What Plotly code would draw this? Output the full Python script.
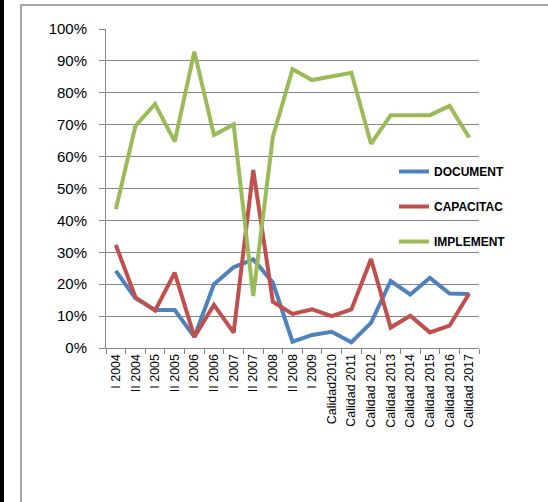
import plotly.graph_objects as go

categories = ["I 2004", "II 2004", "I 2005", "II 2005", "I 2006", "II 2006", "I 2007",
              "II 2007", "I 2008", "II 2008", "I 2009", "Calidad2010", "Calidad 2011",
              "Calidad 2012", "Calidad 2013", "Calidad 2014", "Calidad 2015",
              "Calidad 2016", "Calidad 2017"]
document = [0.242, 0.156, 0.119, 0.119, 0.035, 0.200, 0.253, 0.278, 0.205, 0.020, 0.041,
            0.051, 0.018, 0.079, 0.210, 0.168, 0.220, 0.171, 0.169]
capacitac = [0.323, 0.159, 0.117, 0.236, 0.035, 0.135, 0.048, 0.558, 0.145, 0.107, 0.121,
             0.100, 0.121, 0.279, 0.064, 0.101, 0.049, 0.070, 0.171]
implement = [0.435, 0.696, 0.765, 0.647, 0.929, 0.668, 0.701, 0.163, 0.662, 0.874, 0.840,
             0.853, 0.863, 0.640, 0.730, 0.730, 0.730, 0.759, 0.660]
series_names = ["DOCUMENT", "CAPACITAC", "IMPLEMENT"]
y_ticks = [0, 0.1, 0.2, 0.3, 0.4, 0.5, 0.6, 0.7, 0.8, 0.9, 1.0]

colors = ["#4F81BD", "#C0504D", "#9BBB59"]
W, H = 548, 502
L, R, T, B = 106, 479, 29, 348

fig = go.Figure()
for i, (name, vals) in enumerate(zip(series_names, [document, capacitac, implement])):
    fig.add_trace(go.Scatter(x=categories, y=vals, mode="lines", name=name,
                             legendgroup=name,
                             line=dict(color=colors[i], width=4)))


def px_x(p):
    return (p - L) / (R - L)


def px_y(p):
    return (B - p) / (B - T)


shapes = [
    dict(type="rect", xref="paper", yref="paper",
         x0=px_x(21), x1=px_x(560), y0=px_y(5), y1=px_y(520),
         line=dict(color="#8a8a8a", width=1.5), fillcolor="rgba(0,0,0,0)", layer="below"),
    dict(type="rect", xref="paper", yref="paper",
         x0=px_x(-5), x1=px_x(4), y0=px_y(-5), y1=px_y(510),
         line=dict(width=0), fillcolor="#000000"),
]

fig.update_layout(
    width=W, height=H,
    margin=dict(l=L, r=W - R, t=T, b=H - B, pad=0),
    paper_bgcolor="white", plot_bgcolor="white",
    font=dict(family="Liberation Sans, Arial, sans-serif", color="#000000"),
    showlegend=True,
    legend=dict(x=px_x(394), y=px_y(157), xanchor="left", yanchor="top",
                traceorder="grouped", tracegroupgap=16,
                font=dict(size=12, family="Liberation Sans, Arial, sans-serif",
                          color="#000000", weight="bold"),
                bgcolor="rgba(0,0,0,0)", itemwidth=30),
    xaxis=dict(type="category", tickangle=-90, tickson="boundaries",
               ticks="outside", ticklen=5, tickcolor="#868686",
               showgrid=False, showline=True, linecolor="#868686", linewidth=1,
               tickfont=dict(size=12.5), range=[-0.5, len(categories) - 0.5]),
    yaxis=dict(range=[0, 1], tickvals=y_ticks, tickformat=".0%",
               ticks="outside", ticklen=6, tickcolor="#868686",
               showgrid=True, gridcolor="#868686", gridwidth=1,
               showline=True, linecolor="#868686", linewidth=1,
               zeroline=False, tickfont=dict(size=15), ticklabelstandoff=9),
    shapes=shapes,
)

fig.write_html("out.html", config={"displayModeBar": False},
               post_script="document.body.style.margin='0';document.body.style.overflow='hidden';")
